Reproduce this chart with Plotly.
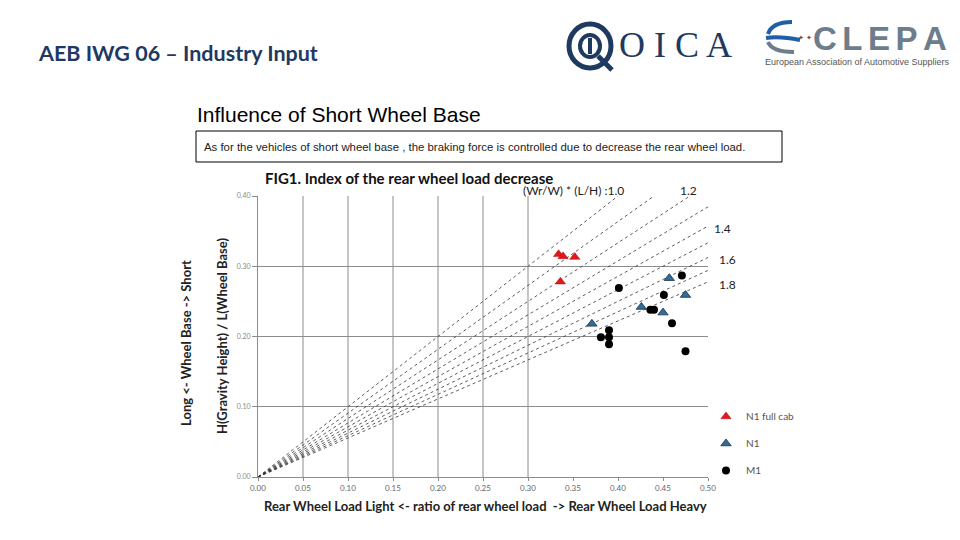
import plotly.graph_objects as go

# ---------------- data ----------------
ratio_keys = [1.0, 1.1, 1.2, 1.3, 1.4, 1.5, 1.6, 1.7, 1.8]
labelled_keys = ["(Wr/W) * (L/H) :1.0", "1.2", "1.4", "1.6", "1.8"]

n1_full_cab_x = [0.334, 0.339, 0.352, 0.336]
n1_full_cab_y = [0.317, 0.314, 0.313, 0.278]

n1_x = [0.371, 0.426, 0.450, 0.457, 0.475]
n1_y = [0.218, 0.242, 0.234, 0.283, 0.259]

m1_x = [0.401, 0.471, 0.451, 0.436, 0.440, 0.460, 0.390, 0.381, 0.390, 0.390, 0.475]
m1_y = [0.269, 0.287, 0.259, 0.238, 0.238, 0.219, 0.209, 0.199, 0.199, 0.189, 0.179]

x_ticks = [0.00, 0.05, 0.10, 0.15, 0.20, 0.25, 0.30, 0.35, 0.40, 0.45, 0.50]
y_ticks = [0.00, 0.10, 0.20, 0.30, 0.40]
x_grid = [0.05, 0.10, 0.15, 0.20, 0.25, 0.30]

X_MAX, Y_MAX = 0.5, 0.4

# plot area in pixels
L, R, T, B = 258, 708, 196, 477
W, H = R - L, B - T


def PX(px):
    return (px - L) / W


def PY(py):
    return (B - py) / H


fig = go.Figure()

# dotted reference lines y = x / k
for k in ratio_keys:
    xe = min(X_MAX, Y_MAX * k)
    fig.add_trace(go.Scatter(x=[0, xe], y=[0, xe / k], mode="lines",
                             line=dict(color="#333333", width=0.8, dash="dot"),
                             showlegend=False, hoverinfo="skip"))

fig.add_trace(go.Scatter(x=n1_full_cab_x, y=n1_full_cab_y, mode="markers", name="N1 full cab",
                         legendgroup="a",
                         marker=dict(symbol="triangle-up", size=9, color="#e3161b",
                                     line=dict(color="#b01010", width=0.5))))
fig.add_trace(go.Scatter(x=n1_x, y=n1_y, mode="markers", name="N1", legendgroup="b",
                         marker=dict(symbol="triangle-up", size=9, color="#2f6e9a",
                                     line=dict(color="#1a2f45", width=0.8))))
fig.add_trace(go.Scatter(x=m1_x, y=m1_y, mode="markers", name="M1", legendgroup="c",
                         marker=dict(symbol="circle", size=8, color="#000000")))

shapes = []
for gx in x_grid:
    shapes.append(dict(type="line", xref="x", yref="y", x0=gx, x1=gx, y0=0, y1=Y_MAX,
                       line=dict(color="#8c8c8c", width=1), layer="below"))
# description box
shapes.append(dict(type="rect", xref="paper", yref="paper", x0=PX(196), x1=PX(782),
                   y0=PY(162), y1=PY(131), line=dict(color="#000000", width=1)))

# OICA logo
navy = "#1f3a60"
shapes.append(dict(type="circle", xref="paper", yref="paper", x0=PX(569), x1=PX(611),
                   y0=PY(68), y1=PY(24), line=dict(color=navy, width=5)))
shapes.append(dict(type="circle", xref="paper", yref="paper", x0=PX(580), x1=PX(600),
                   y0=PY(57), y1=PY(35), line=dict(color=navy, width=4)))
shapes.append(dict(type="line", xref="paper", yref="paper", x0=PX(590), x1=PX(590),
                   y0=PY(54), y1=PY(38), line=dict(color=navy, width=4)))
shapes.append(dict(type="line", xref="paper", yref="paper", x0=PX(598), x1=PX(612),
                   y0=PY(56), y1=PY(70), line=dict(color=navy, width=5)))

# CLEPA swoosh
blue = "#1f5ea8"
def arc(x0, y0, x1, y1, cx, cy, w, c=blue):
    return dict(type="path", xref="paper", yref="paper",
                path=f"M {PX(x0)} {PY(y0)} Q {PX(cx)} {PY(cy)} {PX(x1)} {PY(y1)}",
                line=dict(color=c, width=w))
shapes.append(arc(792, 22, 768, 34, 772, 22, 4))
shapes.append(arc(766, 38, 800, 40, 780, 36, 4))
shapes.append(arc(768, 42, 794, 52, 772, 52, 4, "#6d7d8c"))

SP = "\u2006"
annotations = [
    dict(text="<b>AEB IWG 06 – Industry Input</b>", x=PX(36), y=PY(53), xanchor="left",
         yanchor="middle", font=dict(family="Lato", size=21.5, color="#1f3864")),
    dict(text=" ".join("OICA"), x=PX(617), y=PY(45), xanchor="left", yanchor="middle",
         font=dict(family="Liberation Serif", size=36, color=navy)),
    dict(text="<b>" + SP.join("CLEPA") + "</b>", x=PX(811), y=PY(39), xanchor="left",
         yanchor="middle", font=dict(family="Liberation Sans", size=33, color="#6d7d8c")),
    dict(text="✦ ✦", x=PX(796), y=PY(38), xanchor="left", yanchor="middle",
         font=dict(family="DejaVu Sans", size=7, color="#555555")),
    dict(text="European Association of Automotive Suppliers", x=PX(763), y=PY(62), xanchor="left",
         yanchor="middle", font=dict(family="Liberation Sans", size=9, color="#555555")),
    dict(text="Influence of Short Wheel Base", x=PX(195), y=PY(114), xanchor="left", yanchor="middle",
         font=dict(family="Liberation Sans", size=21, color="#000000")),
    dict(text="As for the vehicles of short wheel base , the braking force is controlled due to decrease the rear wheel load.",
         x=PX(202), y=PY(147), xanchor="left", yanchor="middle",
         font=dict(family="Liberation Sans", size=11.4, color="#222222")),
    dict(text="<b>FIG1. Index of the rear wheel load decrease</b>", x=PX(263), y=PY(178), xanchor="left",
         yanchor="middle", font=dict(family="Lato", size=15, color="#111111")),
    dict(text="<b>Rear Wheel Load Light <- ratio of rear wheel load  -> Rear Wheel Load Heavy</b>",
         x=PX(485), y=PY(506), xanchor="center", yanchor="middle",
         font=dict(family="Lato", size=13, color="#222222")),
    dict(text="<b>H(Gravity Height) / L(Wheel Base)</b>", x=PX(222), y=PY(336), xanchor="center",
         yanchor="middle", textangle=-90, font=dict(family="Lato", size=13, color="#222222")),
    dict(text="<b>Long <- Wheel Base -> Short</b>", x=PX(186), y=PY(343), xanchor="center",
         yanchor="middle", textangle=-90, font=dict(family="Lato", size=13, color="#222222")),
]
label_pos = [(626, 191, "right"), (699, 191, "right"), (712, 228, "left"), (717, 259, "left"),
             (717, 284, "left")]
for txt, (lx, ly, anc) in zip(labelled_keys, label_pos):
    annotations.append(dict(text=txt, x=PX(lx), y=PY(ly), xanchor=anc, yanchor="middle",
                            font=dict(family="Lato", size=12, color="#222222")))
for a in annotations:
    a.setdefault("xref", "paper")
    a.setdefault("yref", "paper")
    a.setdefault("showarrow", False)

fig.update_layout(
    width=960, height=540,
    margin=dict(l=L, r=960 - R, t=T, b=540 - B, autoexpand=False),
    paper_bgcolor="white", plot_bgcolor="white",
    shapes=shapes, annotations=annotations,
    showlegend=True,
    legend=dict(x=PX(706), y=PY(402), xanchor="left", yanchor="top", bgcolor="rgba(0,0,0,0)",
                font=dict(family="Lato", size=10, color="#555555"), tracegroupgap=8,
                itemwidth=30),
    xaxis=dict(range=[0, X_MAX], tickvals=x_ticks, tickformat=".2f", showgrid=False,
               zeroline=False, showline=True, linecolor="#8c8c8c", linewidth=1,
               ticks="outside", ticklen=3, tickcolor="#8c8c8c",
               tickfont=dict(family="Lato", size=8, color="#666666")),
    yaxis=dict(range=[0, Y_MAX], tickvals=y_ticks, tickformat=".2f", showgrid=True,
               gridcolor="#8c8c8c", gridwidth=1, zeroline=False, showline=True,
               linecolor="#8c8c8c", linewidth=1, ticks="outside", ticklen=5, tickcolor="#8c8c8c",
               tickfont=dict(family="Lato", size=7, color="#888888")),
)

fig.write_html("out.html", config={"displayModeBar": False},
               post_script="document.body.style.margin='0';")
